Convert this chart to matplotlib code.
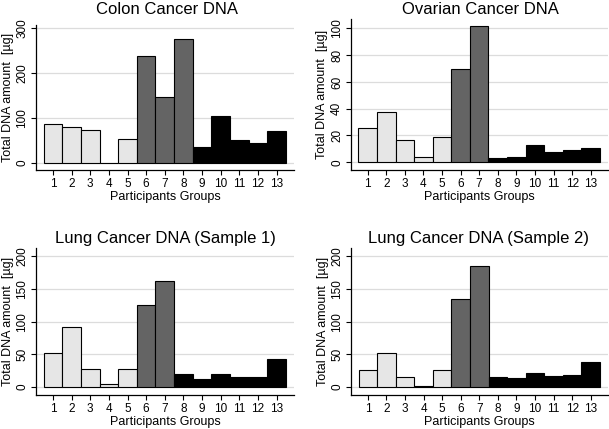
import matplotlib.pyplot as plt

plt.rcParams['font.family'] = ['Liberation Sans', 'DejaVu Sans']

groups = list(range(1, 14))

colon_dna = [87, 80, 73, 0, 52, 238, 147, 275, 35, 104, 50, 44, 70]
ovarian_dna = [25.6, 37.3, 16.3, 3.8, 18.8, 70, 101.5, 3, 4, 13, 8, 9, 10.8]
lung1_dna = [51.5, 92, 27, 4, 27, 125, 162.5, 19.5, 12, 19.5, 16, 16, 43.5]
lung2_dna = [26.5, 52.5, 15.5, 1, 25.5, 134, 186, 15.5, 14, 21.5, 17.5, 19, 38]

# colour class per group: 0 light, 1 dark grey, 2 black
colon_class = [0, 0, 0, 0, 0, 1, 1, 1, 2, 2, 2, 2, 2]
other_class = [0, 0, 0, 0, 0, 1, 1, 2, 2, 2, 2, 2, 2]
palette = ['#e6e6e6', '#646464', '#000000']

panels = [
    ("Colon Cancer DNA", colon_dna, colon_class, [0, 100, 200, 300], (-16.3, 306),
     [36, 170, 258, 145], (167, 9)),
    ("Ovarian Cancer DNA", ovarian_dna, other_class, [0, 20, 40, 60, 80, 100], (-5.8, 107),
     [350.7, 170, 257.3, 151], (480, 9)),
    ("Lung Cancer DNA (Sample 1)", lung1_dna, other_class, [0, 50, 100, 150, 200], (-12.3, 212.8),
     [36, 395, 258, 147], (165, 238)),
    ("Lung Cancer DNA (Sample 2)", lung2_dna, other_class, [0, 50, 100, 150, 200], (-12.3, 212.8),
     [351, 395, 257, 147], (478, 238)),
]

W, H = 609, 429
fig = plt.figure(figsize=(W / 100, H / 100), dpi=100)

for title, vals, cls, yticks, ylim, (x0, ybot, w, h), (tx, ty) in panels:
    ax = fig.add_axes([x0 / W, (H - ybot) / H, w / W, h / H])
    colors = [palette[c] for c in cls]
    ax.bar(groups, vals, width=1.0, color=colors, edgecolor='black', linewidth=0.8, zorder=3)
    ax.set_xlim(0.09, 13.93)
    ax.set_ylim(*ylim)
    ax.set_yticks(yticks)
    ax.set_xticks(groups)
    ax.yaxis.grid(True, color='#dcdcdc', linewidth=0.9, zorder=0)
    ax.set_axisbelow(True)
    for s in ['top', 'right']:
        ax.spines[s].set_visible(False)
    for s in ['left', 'bottom']:
        ax.spines[s].set_linewidth(0.9)
    ax.tick_params(axis='both', direction='out', length=3.5, width=0.8, labelsize=8.5, pad=2)
    plt.setp(ax.get_yticklabels(), rotation=90, va='center')
    ax.set_xlabel("Participants Groups", fontsize=9, labelpad=1)
    ax.set_ylabel("Total DNA amount  [\u00b5g]", fontsize=9, labelpad=2)
    fig.text(tx / W, 1 - ty / H, title, fontsize=12, ha='center', va='center')

fig.savefig("out.png", dpi=100)
